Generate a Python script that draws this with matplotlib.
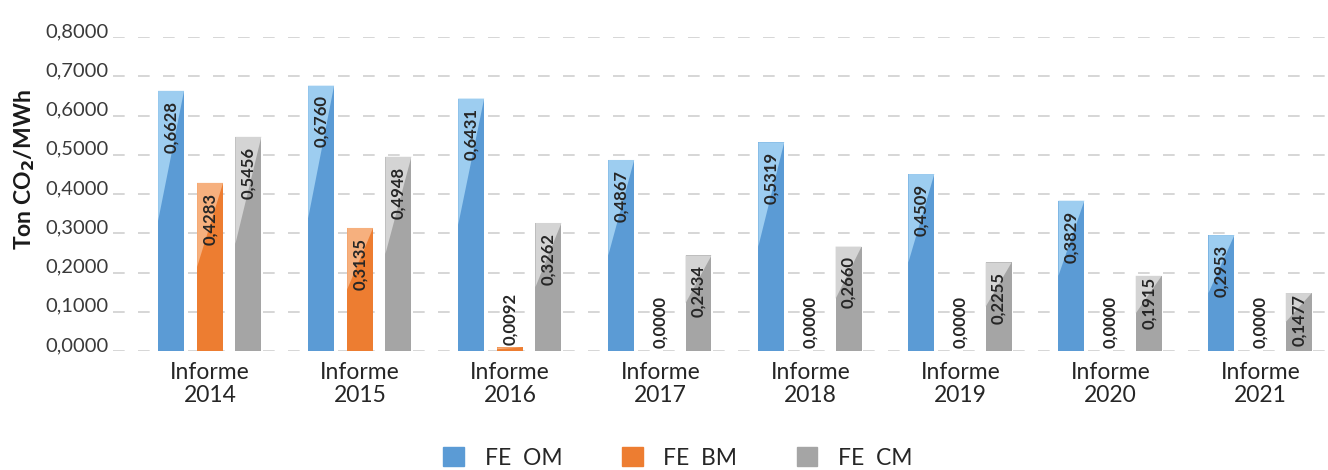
import matplotlib

matplotlib.use("Agg")
import matplotlib.pyplot as plt
from matplotlib.patches import Patch, Polygon

plt.rcParams["font.family"] = ["Lato", "DejaVu Sans"]

# data
years = ["2014", "2015", "2016", "2017", "2018", "2019", "2020", "2021"]
fe_om = [0.6628, 0.6760, 0.6431, 0.4867, 0.5319, 0.4509, 0.3829, 0.2953]
fe_bm = [0.4283, 0.3135, 0.0092, 0.0, 0.0, 0.0, 0.0, 0.0]
fe_cm = [0.5456, 0.4948, 0.3262, 0.2434, 0.2660, 0.2255, 0.1915, 0.1477]
series = ["FE  OM", "FE  BM", "FE  CM"]
yticks = [0.0, 0.1, 0.2, 0.3, 0.4, 0.5, 0.6, 0.7, 0.8]

BASE = ["#5B9BD5", "#ED7D31", "#A5A5A5"]
LIGHT = ["#9DCDF0", "#F6B07E", "#D4D4D4"]
TXT = "#262626"

W, H = 1328, 470
fig = plt.figure(figsize=(W / 100, H / 100), dpi=100)
ax = fig.add_axes([113 / W, 1 - 351 / H, (W - 113) / W, (351 - 37) / H])

x = range(len(years))
offsets = [-0.26, 0.0, 0.255]
for vals, off, c, lc in zip([fe_om, fe_bm, fe_cm], offsets, BASE, LIGHT):
    bars = ax.bar([i + off for i in x], vals, width=0.173, color=c, zorder=2)
    for b, v in zip(bars, vals):
        # lighter diagonal sheen on the upper-left half of each bar
        x0, w, h = b.get_x(), b.get_width(), b.get_height()
        if h > 0:
            ax.add_patch(Polygon([(x0, h), (x0 + w, h), (x0, h * 0.5)],
                                 closed=True, color=lc, lw=0, zorder=3))
        lab = f"{v:.4f}".replace(".", ",")
        cx = x0 + w / 2
        if v > 0.1:
            dy = -1 if v < 0.2 else -7
            ax.annotate(lab, (cx, h), xytext=(0, dy), textcoords="offset points",
                        rotation=90, ha="center", va="top", fontsize=12,
                        fontweight="bold", color=TXT, zorder=4)
        else:
            ax.annotate(lab, (cx, h), xytext=(0, 2), textcoords="offset points",
                        rotation=90, ha="center", va="bottom", fontsize=12,
                        fontweight="bold", color=TXT, zorder=4)

ax.set_xlim(-0.647, 7.45)
ax.set_ylim(0, 0.8)
ax.set_yticks(yticks)
ax.set_yticklabels([f"{t:.4f}".replace(".", ",") for t in yticks],
                   fontsize=14.5, color="#3A3A3A")
for t in ax.get_yticklabels():
    t.set_va("baseline")
ax.set_xticks(list(x))
ax.set_xticklabels([f"Informe\n{y}" for y in years], fontsize=16.5, color=TXT,
                   linespacing=1.1)
ax.tick_params(axis="both", length=0)
ax.tick_params(axis="y", pad=3)
ax.tick_params(axis="x", pad=8)
ax.grid(axis="y", color="#CFCFCF", lw=1.2, ls=(0, (7, 8)), zorder=0)
ax.set_axisbelow(True)
for s in ax.spines.values():
    s.set_visible(False)

fig.text(25 / W, 1 - 170 / H, r"Ton CO$_\mathbf{2}$/MWh", rotation=90,
         ha="center", va="center", fontsize=16.5, fontweight="bold", color="#1A1A1A")

handles = [Patch(color=c) for c in BASE]
fig.legend(handles, series, loc="center", bbox_to_anchor=(678 / W, 12 / H),
           ncol=3, frameon=False, fontsize=16.5, handlelength=0.9, handleheight=0.9,
           handletextpad=0.9, columnspacing=2.6, labelcolor=TXT)

fig.savefig("out.png", dpi=100)
